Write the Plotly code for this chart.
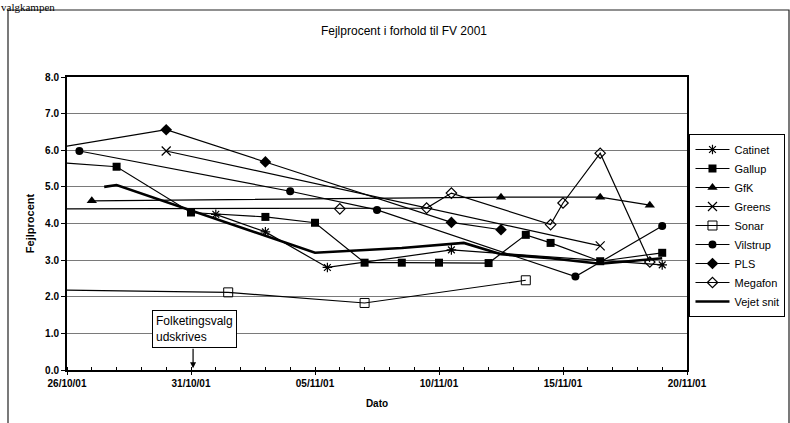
import plotly.graph_objects as go

# ---- data ----
catinet_x = ["2001-11-01", "2001-11-03", "2001-11-05 12:00", "2001-11-10 12:00", "2001-11-19"]
catinet_y = [4.25, 3.77, 2.80, 3.28, 2.87]

gallup_x = ["2001-10-25", "2001-10-28", "2001-10-31", "2001-11-03", "2001-11-05", "2001-11-07",
            "2001-11-08 12:00", "2001-11-10", "2001-11-12", "2001-11-13 12:00", "2001-11-14 12:00",
            "2001-11-16 12:00", "2001-11-19"]
gallup_y = [5.70, 5.55, 4.30, 4.18, 4.02, 2.93, 2.93, 2.93, 2.92, 3.69, 3.47, 2.97, 3.20]

gfk_x = ["2001-10-27", "2001-11-12 12:00", "2001-11-16 12:00", "2001-11-18 12:00"]
gfk_y = [4.62, 4.72, 4.72, 4.50]

greens_x = ["2001-10-30", "2001-11-16 12:00"]
greens_y = [5.98, 3.39]

sonar_x = ["2001-10-25", "2001-11-01 12:00", "2001-11-07", "2001-11-13 12:00"]
sonar_y = [2.19, 2.12, 1.83, 2.45]

vilstrup_x = ["2001-10-26 12:00", "2001-11-04", "2001-11-07 12:00", "2001-11-15 12:00", "2001-11-19"]
vilstrup_y = [5.98, 4.88, 4.37, 2.55, 3.93]

pls_x = ["2001-10-25", "2001-10-30", "2001-11-03", "2001-11-10 12:00", "2001-11-12 12:00"]
pls_y = [6.00, 6.56, 5.68, 4.03, 3.83]

megafon_x = ["2001-10-25", "2001-11-06", "2001-11-09 12:00", "2001-11-10 12:00", "2001-11-14 12:00",
             "2001-11-15", "2001-11-16 12:00", "2001-11-18 12:00"]
megafon_y = [4.40, 4.40, 4.42, 4.83, 3.97, 4.56, 5.92, 2.95]

vejet_x = ["2001-10-27 12:00", "2001-10-28", "2001-11-05", "2001-11-08 12:00", "2001-11-11",
           "2001-11-12 12:00", "2001-11-14 12:00", "2001-11-16 12:00", "2001-11-19"]
vejet_y = [5.00, 5.05, 3.20, 3.33, 3.47, 3.16, 3.05, 2.90, 3.05]

y_ticks = [0, 1, 2, 3, 4, 5, 6, 7, 8]

title_text = "Fejlprocent i forhold til FV 2001"
note_text = "Folketingsvalg<br>udskrives"

# ---- figure ----
FONT = "Arial, Liberation Sans, sans-serif"
fig = go.Figure()

series = [
    ("Catinet", catinet_x, catinet_y, dict(symbol="asterisk-open", size=8, line=dict(width=1.2, color="black"))),
    ("Gallup", gallup_x, gallup_y, dict(symbol="square", size=8, color="black")),
    ("GfK", gfk_x, gfk_y, dict(symbol="triangle-up", size=9, color="black")),
    ("Greens", greens_x, greens_y, dict(symbol="x-thin-open", size=9, line=dict(width=1.2, color="black"))),
    ("Sonar", sonar_x, sonar_y, dict(symbol="square-open", size=9, color="black", line=dict(width=1, color="black"))),
    ("Vilstrup", vilstrup_x, vilstrup_y, dict(symbol="circle", size=8, color="black")),
    ("PLS", pls_x, pls_y, dict(symbol="diamond", size=9, color="black")),
    ("Megafon", megafon_x, megafon_y, dict(symbol="diamond-open", size=8, color="black", line=dict(width=1.2, color="black"))),
]
for name, xs, ys, mk in series:
    fig.add_trace(go.Scatter(x=xs, y=ys, name=name, mode="lines+markers",
                             line=dict(color="black", width=1.2), marker=mk))

fig.add_trace(go.Scatter(x=vejet_x, y=vejet_y, name="Vejet snit", mode="lines",
                         line=dict(color="black", width=2.6)))

fig.update_layout(
    width=790, height=423,
    margin=dict(l=67, r=103, t=77, b=53, autoexpand=False),
    paper_bgcolor="white", plot_bgcolor="white",
    font=dict(family=FONT, color="black", size=11),
    title=dict(text=title_text, x=404 / 790, xanchor="center", y=1 - 31 / 423, yanchor="middle",
               font=dict(size=12, family=FONT)),
    showlegend=True,
    legend=dict(x=1.004, xanchor="left", y=(370 - 134) / 293, yanchor="top",
                bordercolor="black", borderwidth=1, bgcolor="white", itemwidth=34,
                font=dict(size=11, family=FONT), tracegroupgap=0),
    xaxis=dict(
        type="date", range=["2001-10-26", "2001-11-20"],
        tick0="2001-10-26", dtick=5 * 86400000, tickformat="%d/%m/%y",
        ticks="outside", ticklen=3, tickcolor="black",
        tickfont=dict(size=10, weight="bold"),
        showline=True, linecolor="black", linewidth=2, mirror=True,
        showgrid=False, zeroline=False,
        minor=dict(dtick=86400000, ticks="inside", ticklen=3, tickcolor="black", showgrid=False),
        title=dict(text="Dato", font=dict(size=10, weight="bold"), standoff=12),
    ),
    yaxis=dict(
        range=[0, 8], tickvals=y_ticks, tickformat=".1f",
        ticks="outside", ticklen=4, tickcolor="black",
        tickfont=dict(size=10, weight="bold"),
        showline=True, linecolor="black", linewidth=2, mirror=True,
        showgrid=True, gridcolor="#7a7a7a", gridwidth=1, zeroline=False,
        title=dict(text="Fejlprocent", font=dict(size=11, weight="bold"), standoff=8),
    ),
)

# outer chart border
fig.add_shape(type="rect", xref="paper", yref="paper",
              x0=(8 - 67) / 620, x1=(789 - 67) / 620, y0=(370 - 425) / 293, y1=(370 - 10) / 293,
              line=dict(color="#222", width=1.2), layer="below")

# annotation box
fig.add_annotation(text=note_text, xref="paper", yref="paper",
                   x=(152 - 67) / 620, xanchor="left", y=(370 - 329) / 293, yanchor="middle",
                   showarrow=False, align="left", bordercolor="black", borderwidth=1,
                   bgcolor="white", borderpad=3, font=dict(size=12, family=FONT))
fig.add_annotation(text="", x="2001-10-31 02:00", y=0.05, ax=0, ay=-21,
                   showarrow=True, arrowhead=2, arrowsize=1, arrowwidth=1.2, arrowcolor="black")

# heading text from the page above the chart (top-left)
fig.add_annotation(text="valgkampen", xref="paper", yref="paper",
                   x=(0 - 67) / 620, xanchor="left", y=(370 + 0) / 293, yanchor="top",
                   showarrow=False, borderpad=0,
                   font=dict(size=11, family="Liberation Serif, Times New Roman, serif"))

fig.write_html("out.html", post_script="document.body.style.margin='0';",
               config={"displayModeBar": False})
